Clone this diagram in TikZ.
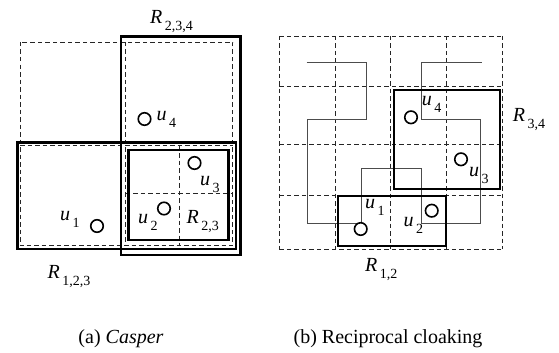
\documentclass[tikz,border=0pt]{standalone}
\usepackage{fontspec}
\setmainfont{Liberation Serif}
\newcommand{\lab}[2]{\fontsize{20}{20}\selectfont\textit{#1}\kern2.5pt\raisebox{-7pt}{\fontsize{14}{14}\selectfont #2}}
\begin{document}
\begin{tikzpicture}[x=1pt,y=-1pt,
  cell/.style={draw=black!85,line width=0.7pt,dash pattern=on 4.5pt off 3pt},
  region/.style={draw=black,line width=2.2pt},
  curve/.style={draw=black!70,line width=0.8pt},
  user/.style={circle,draw=black,line width=1.6pt,minimum size=12.5pt,inner sep=0pt},
  lbl/.style={anchor=base west,inner sep=0pt},
  captext/.style={anchor=base,inner sep=0pt,font=\fontsize{20}{20}\selectfont}]
\useasboundingbox (0,0) rectangle (559,353);
% ---------- (a) Casper ----------
\draw[cell] (20,42) rectangle (232.5,245.5);
\draw[cell] (125.5,42) -- (125.5,245.5);
\draw[cell] (20,145.5) -- (232.5,145.5);
\draw[cell] (179.5,145.5) -- (179.5,245.5);
\draw[cell] (125.5,193) -- (232.5,193);
\draw[region] (121,36.5) rectangle (240.5,255);
\draw[region] (17.5,142.5) rectangle (236,249);
\draw[region] (128.5,150) rectangle (228.5,240);
\node[user] (a4) at (144.5,119) {};
\node[user] (a3) at (194.5,163) {};
\node[user] (a2) at (164,208.5) {};
\node[user] (a1) at (97,226) {};
\node[lbl] (la4) at (156.5,120) {\lab{u}{4}};
\node[lbl] (la3) at (200,185) {\lab{u}{3}};
\node[lbl] (la2) at (138,223) {\lab{u}{2}};
\node[lbl] (la1) at (60,220) {\lab{u}{1}};
\node[lbl] (lR234) at (150,24) {\lab{R}{2,3,4}};
\node[lbl] (lR123) at (47.5,278.3) {\lab{R}{1,2,3}};
\node[lbl] (lR23) at (186.5,223.3) {\lab{R}{2,3}};
% ---------- (b) Reciprocal cloaking ----------
\foreach \x in {279.3,335.7,390.7,446.7,502.3} \draw[cell] (\x,36) -- (\x,249);
\foreach \y in {36,86.7,144,195.7,249} \draw[cell] (279.3,\y) -- (502.3,\y);
\coordinate (h0) at (306.7,62.3);
\coordinate (h1) at (366,62.3);
\coordinate (h2) at (366,119);
\coordinate (h3) at (307.3,119);
\coordinate (h4) at (307.3,223.3);
\coordinate (h5) at (361,223.3);
\coordinate (h6) at (361,168.3);
\coordinate (h7) at (421.7,168.3);
\coordinate (h8) at (421.7,223.3);
\coordinate (h9) at (480,223.3);
\coordinate (h10) at (480,119);
\coordinate (h11) at (421.7,119);
\coordinate (h12) at (421.7,62.3);
\coordinate (h13) at (481.7,62.3);
\draw[curve] (h0) -- (h1) -- (h2) -- (h3) -- (h4) -- (h5) -- (h6) -- (h7) -- (h8) -- (h9) -- (h10) -- (h11) -- (h12) -- (h13);
\draw[region] (394,90) rectangle (500,189.3);
\draw[region] (337.7,195.7) rectangle (446,245.7);
\node[user,fill=white] (b4) at (411,117.3) {};
\node[user,fill=white] (b3) at (461,159.3) {};
\node[user,fill=white] (b2) at (431.7,210.7) {};
\node[user,fill=white] (b1) at (360.7,229) {};
\node[lbl] (lb4) at (421.7,105) {\lab{u}{4}};
\node[lbl] (lb3) at (469,176.7) {\lab{u}{3}};
\node[lbl] (lb1) at (365,208.3) {\lab{u}{1}};
\node[lbl] (lb2) at (403.3,226.7) {\lab{u}{2}};
\node[lbl] (lR34) at (512.7,121.7) {\lab{R}{3,4}};
\node[lbl] (lR12) at (365,271.7) {\lab{R}{1,2}};
% ---------- captions ----------
\node[captext] (capa) at (121,343) {(a) \textit{Casper}};
\node[captext] (capb) at (388,343) {(b) Reciprocal cloaking};
\end{tikzpicture}
\end{document}
